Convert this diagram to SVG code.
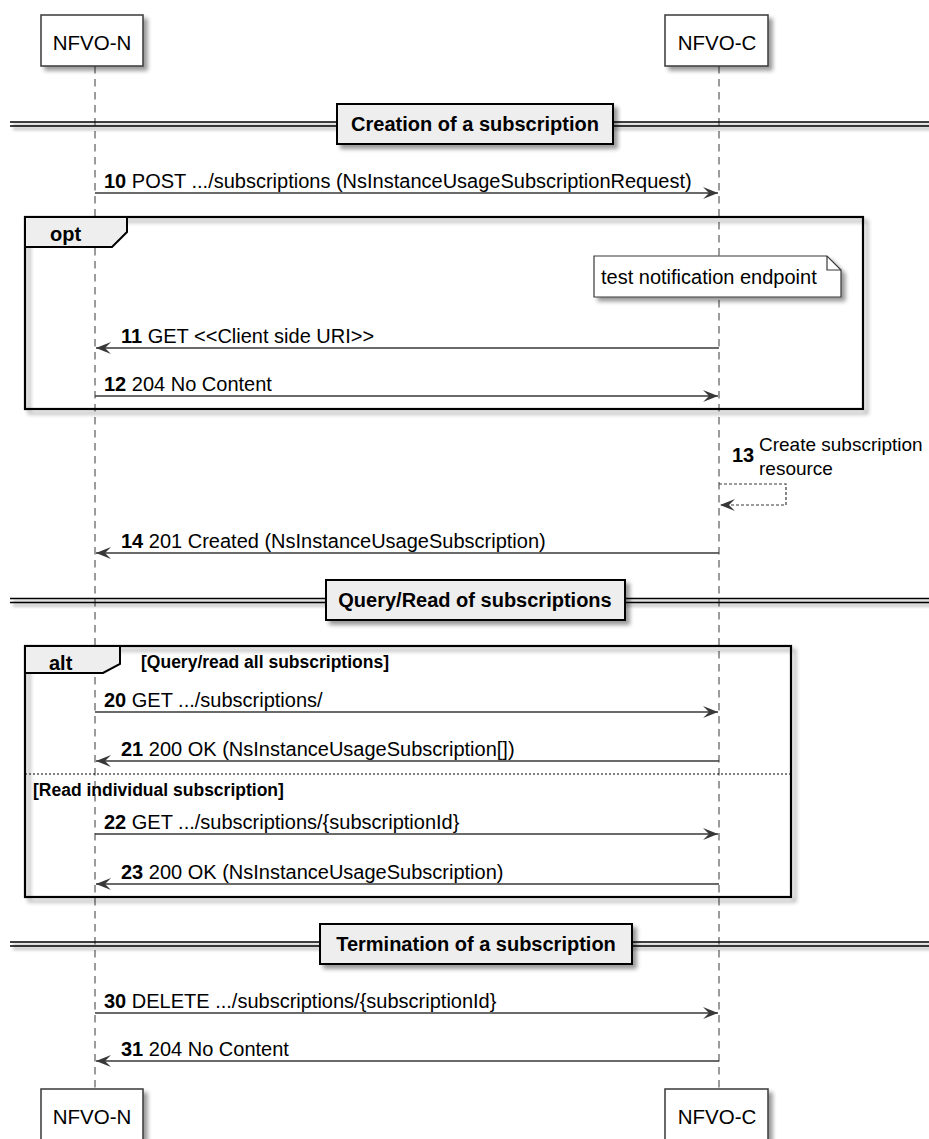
<svg xmlns="http://www.w3.org/2000/svg" width="929" height="1139" viewBox="0 0 929 1139">
<defs>
<filter id="sh" x="-10%" y="-20%" width="130%" height="160%">
<feGaussianBlur in="SourceAlpha" stdDeviation="2"/>
<feOffset dx="4" dy="4"/>
<feComponentTransfer><feFuncA type="linear" slope="0.4"/></feComponentTransfer>
<feMerge><feMergeNode/><feMergeNode in="SourceGraphic"/></feMerge>
</filter>
<filter id="shl" filterUnits="userSpaceOnUse" x="0" y="0" width="929" height="1139">
<feGaussianBlur in="SourceAlpha" stdDeviation="1.5"/>
<feOffset dx="3" dy="3"/>
<feComponentTransfer><feFuncA type="linear" slope="0.4"/></feComponentTransfer>
<feMerge><feMergeNode/><feMergeNode in="SourceGraphic"/></feMerge>
</filter>
<marker id="ah" markerWidth="16" markerHeight="13" refX="15" refY="6" orient="auto" markerUnits="userSpaceOnUse">
<path d="M0,0 L15,6 L0,12 L6,6 Z" fill="#383838"/>
</marker>
<style>
text{font-family:"Liberation Sans",Arial,sans-serif;fill:#000}
.part{fill:#fff;stroke:#383838;stroke-width:1.5;filter:url(#sh)}
.ptext{font-size:20.5px;text-anchor:middle}
.msg{font-size:20px}
.b{font-weight:bold}
.life{stroke:#383838;stroke-width:1;stroke-dasharray:7.5,5.5;fill:none}
.arr{stroke:#383838;stroke-width:1.5;fill:none;marker-end:url(#ah)}
.self{stroke:#383838;stroke-width:1.2;stroke-dasharray:3,2;fill:none;marker-end:url(#ah)}
.frame{fill:none;stroke:#000;stroke-width:2.2;filter:url(#sh)}
.tab{fill:#eee;stroke:#000;stroke-width:2}
.tabtext{font-size:20px;font-weight:bold}
.guard{font-size:17.5px;font-weight:bold}
.dline{fill:none;stroke:#000;stroke-width:1.5;filter:url(#shl)}
.dbox{fill:#eee;stroke:#000;stroke-width:2;filter:url(#sh)}
.dtext{font-size:20px;font-weight:bold;text-anchor:middle}
.note{fill:#fff;stroke:#383838;stroke-width:1.2;filter:url(#sh)}
.else{stroke:#000;stroke-width:1;stroke-dasharray:2,2}
</style>
</defs>
<rect x="0" y="0" width="929" height="1139" fill="#fff"/>

<g id="connectors">
<line class="life" x1="95" y1="66" x2="95" y2="1089"/>
<line class="life" x1="719" y1="66" x2="719" y2="1089"/>
</g>

<g id="div-creation">
<path class="dline" d="M10,122 H929 M10,126 H929"/>
<rect class="dbox" x="337" y="104" width="276" height="40"/>
<text class="dtext" x="475" y="131">Creation of a subscription</text>
</g>

<g id="frame-opt">
<rect class="frame" x="25" y="217" width="838" height="192"/>
<path class="tab" d="M25,217 H127 V232 L112,247 H25 Z"/>
<text class="tabtext" x="50" y="241">opt</text>
</g>

<g id="note-test">
<path class="note" d="M594,256 H827 L841,270 V297 H594 Z"/>
<path d="M827,256 V270 H841" fill="none" stroke="#383838" stroke-width="1.2"/>
<text class="msg" x="601" y="284">test notification endpoint</text>
</g>

<g id="div-query">
<path class="dline" d="M10,598.5 H929 M10,602.5 H929"/>
<rect class="dbox" x="326" y="580" width="299" height="40"/>
<text class="dtext" x="475" y="607">Query/Read of subscriptions</text>
</g>

<g id="frame-alt">
<rect class="frame" x="25" y="646" width="766" height="251"/>
<path class="tab" d="M25,646 H120 V664 L103,673 H25 Z"/>
<text class="tabtext" x="49" y="670">alt</text>
<text class="guard" x="141" y="668">[Query/read all subscriptions]</text>
<line class="else" x1="25" y1="774" x2="791" y2="774"/>
<text class="guard" x="33" y="796">[Read individual subscription]</text>
</g>

<g id="div-termination">
<path class="dline" d="M10,942 H929 M10,946 H929"/>
<rect class="dbox" x="320" y="924" width="312" height="40"/>
<text class="dtext" x="476" y="951">Termination of a subscription</text>
</g>

<g id="messages">
<line class="arr" x1="95" y1="193" x2="718" y2="193"/>
<text class="msg" x="104" y="188"><tspan class="b">10</tspan> POST .../subscriptions (NsInstanceUsageSubscriptionRequest)</text>

<line class="arr" x1="719" y1="348" x2="96" y2="348"/>
<text class="msg" x="121" y="343"><tspan class="b">11</tspan> GET &lt;&lt;Client side URI&gt;&gt;</text>

<line class="arr" x1="95" y1="396" x2="718" y2="396"/>
<text class="msg" x="104" y="391"><tspan class="b">12</tspan> 204 No Content</text>

<path class="self" d="M719,484 H786 V505 H720"/>
<text class="msg b" x="732" y="462">13</text>
<text class="msg" x="759" y="451" style="font-size:19px">Create subscription</text>
<text class="msg" x="759" y="475" style="font-size:19px">resource</text>

<line class="arr" x1="719" y1="553" x2="96" y2="553"/>
<text class="msg" x="121" y="548"><tspan class="b">14</tspan> 201 Created (NsInstanceUsageSubscription)</text>

<line class="arr" x1="95" y1="712" x2="718" y2="712"/>
<text class="msg" x="104" y="707"><tspan class="b">20</tspan> GET .../subscriptions/</text>

<line class="arr" x1="719" y1="761" x2="96" y2="761"/>
<text class="msg" x="121" y="756"><tspan class="b">21</tspan> 200 OK (NsInstanceUsageSubscription[])</text>

<line class="arr" x1="95" y1="834" x2="718" y2="834"/>
<text class="msg" x="104" y="829"><tspan class="b">22</tspan> GET .../subscriptions/{subscriptionId}</text>

<line class="arr" x1="719" y1="884" x2="96" y2="884"/>
<text class="msg" x="121" y="879"><tspan class="b">23</tspan> 200 OK (NsInstanceUsageSubscription)</text>

<line class="arr" x1="95" y1="1013" x2="718" y2="1013"/>
<text class="msg" x="104" y="1008"><tspan class="b">30</tspan> DELETE .../subscriptions/{subscriptionId}</text>

<line class="arr" x1="719" y1="1061" x2="96" y2="1061"/>
<text class="msg" x="121" y="1056"><tspan class="b">31</tspan> 204 No Content</text>
</g>

<g id="p-nfvo-n-top">
<rect class="part" x="41" y="15" width="102" height="51"/>
<text class="ptext" x="92" y="50">NFVO-N</text>
</g>
<g id="p-nfvo-c-top">
<rect class="part" x="665" y="15" width="103" height="51"/>
<text class="ptext" x="717" y="50">NFVO-C</text>
</g>
<g id="p-nfvo-n-bottom">
<rect class="part" x="41" y="1089" width="102" height="51"/>
<text class="ptext" x="92" y="1124">NFVO-N</text>
</g>
<g id="p-nfvo-c-bottom">
<rect class="part" x="665" y="1089" width="103" height="51"/>
<text class="ptext" x="717" y="1124">NFVO-C</text>
</g>
</svg>
